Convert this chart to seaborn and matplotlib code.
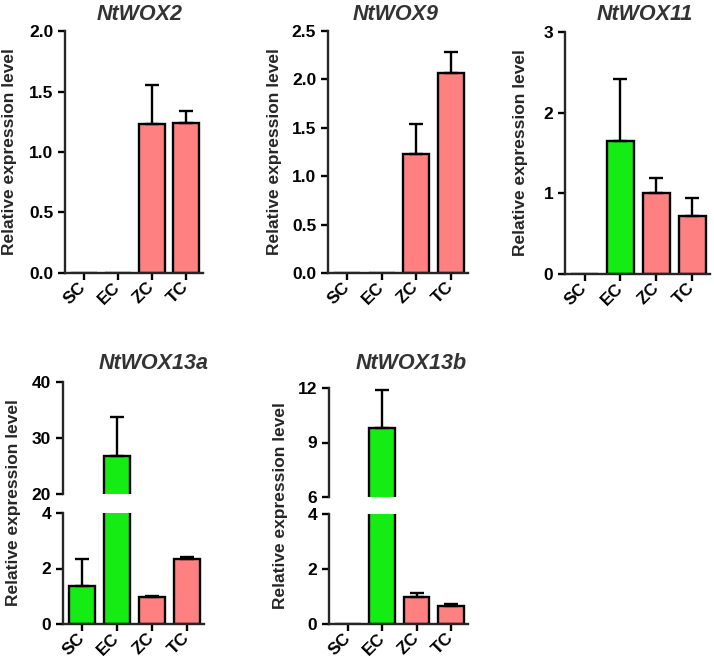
import numpy as np
import pandas as pd
import matplotlib.pyplot as plt
import seaborn as sns

# Data
conditions = ['SC', 'EC', 'ZC', 'TC']
wox2_mean = [0, 0, 1.23, 1.24]
wox2_err = [0, 0, 0.32, 0.10]
wox9_mean = [0, 0, 1.23, 2.07]
wox9_err = [0, 0, 0.31, 0.21]
wox11_mean = [0, 1.65, 1.00, 0.72]
wox11_err = [0, 0.77, 0.19, 0.22]
wox13a_mean = [1.37, 26.7, 0.98, 2.35]
wox13a_err = [0.97, 7.0, 0.04, 0.08]
wox13b_mean = [0, 9.82, 0.97, 0.65]
wox13b_err = [0, 2.09, 0.17, 0.08]

sns.set_style('ticks')
plt.rcParams['font.family'] = ['Liberation Sans', 'DejaVu Sans']
plt.rcParams['font.weight'] = 'bold'

GREEN = '#14ec14'
PINK = '#ff8080'
palette = [GREEN, GREEN, PINK, PINK]
TICK_FS = 12.5

W, H = 714, 665
fig = plt.figure(figsize=(W / 100, H / 100), dpi=100)


def px_axes(left, top, right, bottom):
    return fig.add_axes([left / W, 1 - bottom / H, (right - left) / W, (bottom - top) / H])


def draw_bars(ax, mean, err):
    df = pd.DataFrame({'cond': conditions, 'val': mean})
    sns.barplot(data=df, x='cond', y='val', hue='cond', palette=palette, legend=False,
                width=0.75, saturation=1, edgecolor='black', linewidth=1.7, ax=ax)
    m = np.array(mean)
    e = np.array(err)
    idx = np.where(m > 0)[0]
    ax.errorbar(idx, m[idx], yerr=[np.zeros(len(idx)), e[idx]], fmt='none',
                ecolor='black', elinewidth=1.7, capsize=5, capthick=1.7, zorder=1)
    ax.set_xlim(-0.55, 3.5)
    ax.set_xlabel('')
    ax.set_ylabel('')
    for s in ['top', 'right']:
        ax.spines[s].set_visible(False)
    for s in ['left', 'bottom']:
        ax.spines[s].set_linewidth(1.7)
    ax.tick_params(width=1.7, length=5, labelsize=TICK_FS, colors='black')


def style_xticks(ax):
    ax.set_xticks(range(len(conditions)))
    ax.set_xticklabels(conditions, rotation=45, ha='right', va='center',
                       rotation_mode='anchor', fontweight='bold', fontsize=TICK_FS)


def title(x, y, text):
    fig.text(x / W, 1 - y / H, text, ha='center', va='center', fontsize=15.5,
             fontweight='bold', fontstyle='italic', color='#333333')


def ylab(x, y):
    fig.text(x / W, 1 - y / H, 'Relative expression level', rotation=90, ha='center',
             va='center', fontsize=12.5, fontweight='bold')


# Top row: simple panels
simple = [
    ((65, 31, 203, 273), wox2_mean, wox2_err, 2.0, np.arange(0, 2.01, 0.5), '{:.1f}', 'NtWOX2', 140, 10),
    ((328, 31, 468, 273), wox9_mean, wox9_err, 2.5, np.arange(0, 2.51, 0.5), '{:.1f}', 'NtWOX9', 396, 275),
    ((565, 32, 710, 274), wox11_mean, wox11_err, 3, np.arange(0, 4), '{:.0f}', 'NtWOX11', 645, 521),
]
for box, mean, err, top, ticks, fmt, name, tx, lx in simple:
    ax = px_axes(*box)
    draw_bars(ax, mean, err)
    ax.set_ylim(0, top)
    ax.set_yticks(ticks)
    ax.set_yticklabels([fmt.format(t) for t in ticks], fontweight='bold')
    style_xticks(ax)
    title(tx, 15, name)
    ylab(lx, (box[1] + box[3]) / 2)

# Bottom row: broken y-axis panels
broken = [
    ((63, 382, 204, 494), (63, 513, 204, 624), wox13a_mean, wox13a_err,
     (20, 40), [20, 30, 40], 'NtWOX13a', 154, 14),
    ((329, 388, 468, 497), (329, 514, 468, 624), wox13b_mean, wox13b_err,
     (6, 12), [6, 9, 12], 'NtWOX13b', 411, 280),
]
for ubox, lbox, mean, err, ulim, uticks, name, tx, lx in broken:
    ax_u = px_axes(*ubox)
    ax_l = px_axes(*lbox)
    draw_bars(ax_u, mean, err)
    draw_bars(ax_l, mean, err)
    ax_u.set_ylim(*ulim)
    ax_u.set_yticks(uticks)
    ax_u.set_yticklabels([str(t) for t in uticks], fontweight='bold')
    ax_u.spines['bottom'].set_visible(False)
    ax_u.tick_params(axis='x', bottom=False, labelbottom=False)
    ax_l.set_ylim(0, 4)
    ax_l.set_yticks([0, 2, 4])
    ax_l.set_yticklabels(['0', '2', '4'], fontweight='bold')
    style_xticks(ax_l)
    title(tx, 363, name)
    ylab(lx, (ubox[1] + lbox[3]) / 2)

fig.savefig('out.png', dpi=100)
